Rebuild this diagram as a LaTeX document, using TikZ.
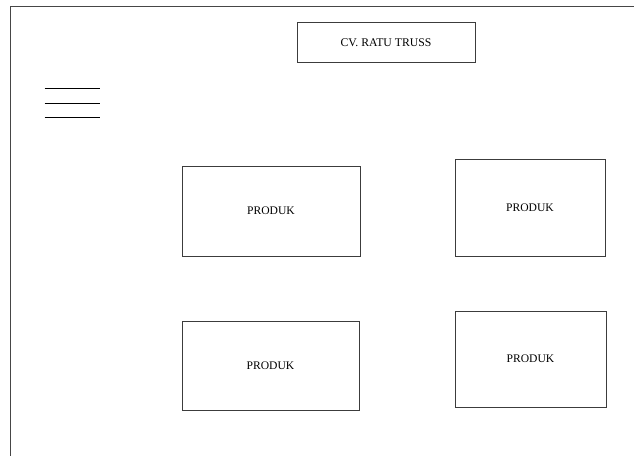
\documentclass[tikz,border=0pt]{standalone}
\usepackage{fontspec}
\setmainfont{Liberation Serif}

\tikzset{every picture/.style={line width=0.75pt}}
\tikzset{
  boxline/.style={draw={rgb, 255:red, 60; green, 60; blue, 60}, draw opacity=1, inner sep=0.75pt},
  produkbox/.style={boxline, font=\fontsize{8.7}{10}\selectfont},
}

\begin{document}
\begin{tikzpicture}[x=0.75pt,y=0.75pt,yscale=-1,xscale=1]
\useasboundingbox (0,0) rectangle (634,456);

%Shape: Frame [id:frame]
    \draw [color={rgb, 255:red, 70; green, 70; blue, 70 }  ,draw opacity=1 ] (634,7) -- (10.5,7) -- (10.5,456) ;
%Straight Lines: Menu
    \foreach \yy in {89,103.5,118}
        \draw    (44.5,\yy) -- (100,\yy) ;

% Title Node
    \node [boxline, minimum width=133.5pt, minimum height=30pt, font=\fontsize{8.8}{10}\selectfont] (judul) at (386,43) {CV. RATU TRUSS};
% Produk Nodes
    \node [produkbox, minimum width=133.5pt, minimum height=67.5pt] (produkA) at (271,211) {PRODUK};
    \node [produkbox, minimum width=112.5pt, minimum height=72.75pt] (produkB) at (530,207.5) {PRODUK};
    \node [produkbox, minimum width=132.75pt, minimum height=66.75pt] (produkC) at (270.5,365.5) {PRODUK};
    \node [produkbox, minimum width=113.25pt, minimum height=72pt] (produkD) at (530.5,359) {PRODUK};

\end{tikzpicture}
\end{document}
